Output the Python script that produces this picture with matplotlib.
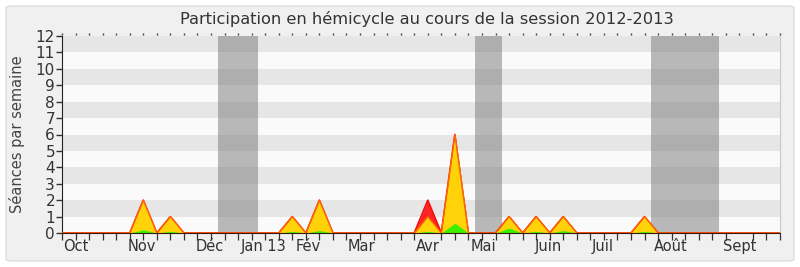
import numpy as np
import matplotlib.pyplot as plt
from matplotlib.patches import FancyBboxPatch

# semaines de la session (0 = 1er oct. 2012)
semaines = np.arange(54)

# séances par semaine
presences = [0, 0, 0, 0, 0, 0, 2, 0, 1, 0,
             0, 0, 0, 0, 0, 0, 0, 1, 0, 2,
             0, 0, 0, 0, 0, 0, 0, 2, 0, 6,
             0, 0, 0, 1, 0, 1, 0, 1, 0, 0,
             0, 0, 0, 1, 0, 0, 0, 0, 0, 0,
             0, 0, 0, 0]
hemicycle = [0, 0, 0, 0, 0, 0, 2, 0, 1, 0,
             0, 0, 0, 0, 0, 0, 0, 1, 0, 2,
             0, 0, 0, 0, 0, 0, 0, 1, 0, 6,
             0, 0, 0, 1, 0, 1, 0, 1, 0, 0,
             0, 0, 0, 1, 0, 0, 0, 0, 0, 0,
             0, 0, 0, 0]
interventions = [0, 0, 0, 0, 0, 0, 0.2, 0, 0.1, 0,
                 0, 0, 0, 0, 0, 0, 0, 0.1, 0, 0.15,
                 0, 0, 0, 0, 0, 0, 0, 0.1, 0, 0.6,
                 0, 0, 0, 0.3, 0, 0.1, 0, 0.15, 0, 0,
                 0, 0, 0, 0.1, 0, 0, 0, 0, 0, 0,
                 0, 0, 0, 0]

# vacances parlementaires (semaines début, fin)
vacances = [(11.5, 14.5), (30.5, 32.5), (43.5, 48.5)]

mois = ["Oct", "Nov", "Déc", "Jan 13", "Fév", "Mar", "Avr", "Mai",
        "Juin", "Juil", "Août", "Sept"]
mois_pos = [1.05, 5.9, 10.9, 14.9, 18.2, 22.1, 27.0, 31.1, 35.9, 39.9, 44.9, 50.0]

texte = "#333333"

fig = plt.figure(figsize=(8, 2.67), dpi=100)
fig.patch.set_facecolor("white")
fond = FancyBboxPatch((6 / 800, 6 / 267), 788 / 800, 255 / 267,
                      boxstyle="round,pad=0,rounding_size=0.008",
                      transform=fig.transFigure, facecolor="#f0f0f0",
                      edgecolor="#dedede", linewidth=1, zorder=-5)
fig.patches.append(fond)

ax = fig.add_axes([62 / 800, 34 / 267, 718 / 800, 197 / 267])
ax.set_facecolor("#fafafa")

# bandes horizontales
for y in range(1, 12, 2):
    ax.axhspan(y, y + 1, color="#e6e6e6", lw=0, zorder=0)

for d, f in vacances:
    ax.axvspan(d, f, color="#787878", alpha=0.5, lw=0, zorder=1)

ax.fill_between(semaines, presences, color="#ff2424", lw=0, zorder=2)
ax.plot(semaines, presences, color="#f01010", lw=1.2, zorder=2.5)
ax.fill_between(semaines, hemicycle, color="#ffd20a", lw=0, zorder=3)
ax.plot(semaines, hemicycle, color="#ff6400", lw=1.0, zorder=3.5)
ax.fill_between(semaines, interventions, color="#3cf000", lw=0, zorder=4)

ax.set_xlim(0, 53)
ax.set_ylim(0, 12)
ax.set_yticks(range(0, 13))
ax.tick_params(axis="y", direction="out", length=4, width=1, colors=texte,
               labelsize=11, pad=1)

ax.set_xticks(mois_pos)
ax.set_xticklabels(mois)
ax.set_xticks(range(0, 54), minor=True)
ax.tick_params(axis="x", which="major", length=0, labelsize=10.5,
               colors=texte, pad=4)
ax.tick_params(axis="x", which="minor", direction="out", length=5, width=0.9,
               color="#333333", top=False, bottom=True)

ax.spines["top"].set_visible(False)
ax.spines["right"].set_color("#c8c8c8")
ax.spines["left"].set_color("#222222")
ax.spines["bottom"].set_color("#3a1a10")
ax.spines["bottom"].set_zorder(6)

# petits points en haut
ax.plot(semaines, np.full(len(semaines), 12.1), ls="none", marker="|",
        ms=1.5, color="#444444", clip_on=False)

ax.set_ylabel("Séances par semaine", fontsize=10.5, color="#444444", labelpad=8)
fig.text(427 / 800, 1 - 19 / 267,
         "Participation en hémicycle au cours de la session 2012-2013",
         ha="center", va="center", fontsize=11.7, color=texte)

fig.savefig("out.png", dpi=100)
